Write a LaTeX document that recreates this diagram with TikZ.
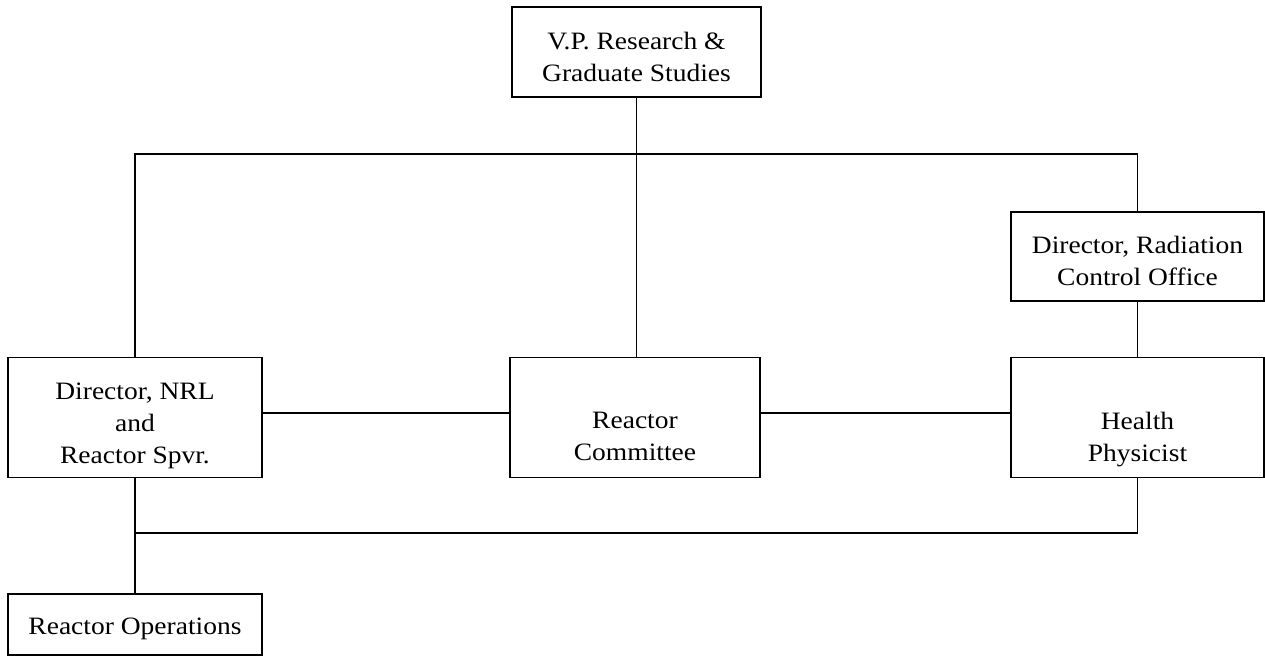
\documentclass[tikz,border=0pt]{standalone}
\usepackage{fontspec}
\setmainfont[FakeStretch=1.1]{Liberation Serif}
\usetikzlibrary{calc}

\begin{document}
\begin{tikzpicture}[x=0.5pt, y=-0.5pt, line width=0.9pt,
  box/.style={draw, rectangle, inner sep=0pt},
  boxtext/.style={align=center, inner sep=0pt,
    font=\fontsize{12.5}{16}\selectfont}]
\useasboundingbox (0,0) rectangle (1265,657);
% The boxes: name/centre x/centre y/width/height/text drop/text
\foreach \nm/\cx/\cy/\w/\h/\dy/\txt in {
  vp/636.5/52/249/90/5/{V.P. Research \&\\Graduate Studies},
  rco/1137.5/256.5/253/89/4/{Director, Radiation\\Control Office},
  nrl/135/417.5/254/120/8/{Director, NRL\\and\\Reactor Spvr.},
  com/635/417.5/250/120/19/{Reactor\\Committee},
  hp/1137.5/417.5/253/120/22/{Health\\Physicist},
  ops/135/624.5/254/61/4/{Reactor Operations}} {
  \node [box, minimum width=\w*0.5pt, minimum height=\h*0.5pt,
    label={[boxtext, yshift=-\dy*0.5pt]center:{\txt}}] (\nm) at (\cx,\cy) {};
}
% Corners of the two long lines
\coordinate (top) at (636.5,154);
\coordinate (bot) at (135,533);
% Lines of authority
\draw (vp.south) -- (vp.south |- com.north);
\draw (nrl.north) |- (top) -| (rco.north);
\draw (rco.south) -- (hp.north);
\draw ($(nrl.east)+(0,-4.5)$) -- ($(com.west)+(0,-4.5)$);
\draw ($(com.east)+(0,-4.5)$) -- ($(hp.west)+(0,-4.5)$);
\draw (nrl.south) -- (ops.north);
\draw (bot) -| (hp.south);
\end{tikzpicture}
\end{document}
